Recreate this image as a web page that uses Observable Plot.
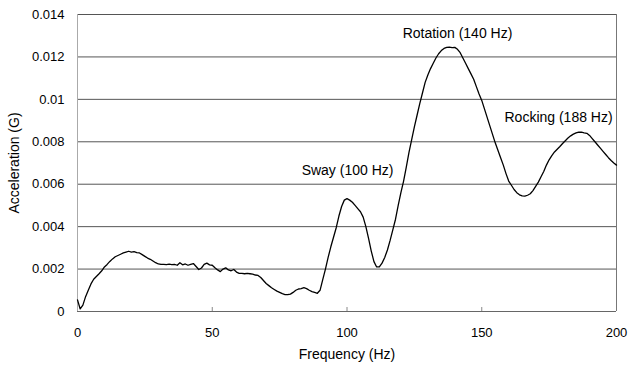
<!DOCTYPE html>
<html>
<head>
<meta charset="utf-8">
<script src="https://cdn.jsdelivr.net/npm/d3@7"></script>
<script src="https://cdn.jsdelivr.net/npm/@observablehq/plot@0.6"></script>
<style>
  html, body { margin: 0; padding: 0; background: #fff; }
  #chart svg { display: block; font-family: "Liberation Sans", Arial, sans-serif; }
</style>
</head>
<body>
<div id="chart"></div>
<script>
// Frequency (Hz), 0..200 step 1
const freq = d3.range(0, 201, 1);
// Acceleration (G)
const accel = [
  0.00055, 0.00012, 0.00030, 0.00070, 0.00100, 0.00130, 0.00152, 0.00165, 0.00178, 0.00192,
  0.00210, 0.00222, 0.00236, 0.00248, 0.00258, 0.00264, 0.00270, 0.00276, 0.00280, 0.00284,
  0.00280, 0.00282, 0.00278, 0.00276, 0.00268, 0.00260, 0.00252, 0.00246, 0.00238, 0.00230,
  0.00224, 0.00222, 0.00222, 0.00221, 0.00223, 0.00221, 0.00222, 0.00218, 0.00230, 0.00220,
  0.00224, 0.00218, 0.00222, 0.00226, 0.00212, 0.00198, 0.00205, 0.00222, 0.00228, 0.00220,
  0.00218, 0.00206, 0.00196, 0.00188, 0.00200, 0.00206, 0.00196, 0.00192, 0.00198, 0.00186,
  0.00180, 0.00180, 0.00178, 0.00180, 0.00178, 0.00176, 0.00172, 0.00170, 0.00160, 0.00146,
  0.00132, 0.00122, 0.00112, 0.00104, 0.00096, 0.00090, 0.00084, 0.00080, 0.00080, 0.00082,
  0.00090, 0.00100, 0.00106, 0.00108, 0.00112, 0.00108, 0.00100, 0.00094, 0.00090, 0.00086,
  0.00100, 0.00150, 0.00200, 0.00255, 0.00305, 0.00350, 0.00395, 0.00450, 0.00495, 0.00525,
  0.00532, 0.00525, 0.00515, 0.00500, 0.00485, 0.00470, 0.00445, 0.00400, 0.00345, 0.00285,
  0.00235, 0.00210, 0.00210, 0.00228, 0.00255, 0.00290, 0.00335, 0.00385, 0.00435, 0.00500,
  0.00560, 0.00615, 0.00680, 0.00750, 0.00810, 0.00870, 0.00925, 0.00980, 0.01030, 0.01080,
  0.01115, 0.01145, 0.01170, 0.01195, 0.01215, 0.01230, 0.01240, 0.01245, 0.01246, 0.01244,
  0.01245, 0.01236, 0.01220, 0.01195, 0.01170, 0.01145, 0.01120, 0.01095, 0.01060, 0.01025,
  0.00995, 0.00955, 0.00915, 0.00875, 0.00835, 0.00795, 0.00760, 0.00725, 0.00690, 0.00650,
  0.00615, 0.00595, 0.00575, 0.00560, 0.00550, 0.00545, 0.00544, 0.00548, 0.00555, 0.00570,
  0.00590, 0.00610, 0.00635, 0.00660, 0.00690, 0.00715, 0.00735, 0.00752, 0.00765, 0.00778,
  0.00792, 0.00805, 0.00818, 0.00828, 0.00836, 0.00842, 0.00846, 0.00845, 0.00842, 0.00840,
  0.00830, 0.00815, 0.00800, 0.00785, 0.00770, 0.00755, 0.00740, 0.00725, 0.00712, 0.00700,
  0.00690
];
const xTicks = [0, 50, 100, 150, 200];
const yTicks = [0, 0.002, 0.004, 0.006, 0.008, 0.01, 0.012, 0.014];
const annLabels = ["Sway (100 Hz)", "Rotation (140 Hz)", "Rocking (188 Hz)"];
const annFreq = [100.2, 141, 178.5];
const annAccel = [0.00665, 0.01311, 0.00915];

const series = freq.map((f, i) => ({f, a: accel[i]}));
const annotations = annLabels.map((t, i) => ({t, f: annFreq[i], a: annAccel[i]}));

const W = 629, H = 371, mL = 77, mR = 13, mT = 14, mB = 60;
const frameH = H - mT - mB;

const chart = Plot.plot({
  width: W,
  height: H,
  marginLeft: mL,
  marginRight: mR,
  marginTop: mT,
  marginBottom: mB,
  style: {fontSize: "13px", fontFamily: "'Liberation Sans', Arial, sans-serif", color: "#000", background: "#fff"},
  x: {domain: [0, 200]},
  y: {domain: [0, 0.014]},
  marks: [
    Plot.ruleY(yTicks.slice(1), {stroke: "#555", strokeWidth: 1}),
    Plot.ruleX([0], {stroke: "#aaa"}),
    Plot.ruleX([200], {stroke: "#777"}),
    Plot.ruleY([0], {stroke: "#666"}),
    Plot.tickX(xTicks.slice(1, -1), {x: d => d, stroke: "#888", insetTop: frameH - 4}),
    Plot.axisX({ticks: xTicks, tickSize: 0, tickPadding: 16, tickFormat: d => String(d), label: null, fill: "#000"}),
    Plot.axisY({ticks: yTicks, tickSize: 0, tickPadding: 13, tickFormat: d => String(d), label: null, fill: "#000"}),
    Plot.line(series, {x: "f", y: "a", stroke: "#000", strokeWidth: 1.3}),
    Plot.text(annotations, {x: "f", y: "a", text: "t", fill: "#000", fontSize: 14}),
    Plot.text(["Frequency (Hz)"], {frameAnchor: "bottom", textAnchor: "middle", dy: 47, fill: "#000", fontSize: 14}),
    Plot.text(["Acceleration (G)"], {frameAnchor: "left", textAnchor: "middle", dx: -63, rotate: -90, fill: "#000", fontSize: 14})
  ]
});
document.getElementById("chart").appendChild(chart);
</script>
</body>
</html>
